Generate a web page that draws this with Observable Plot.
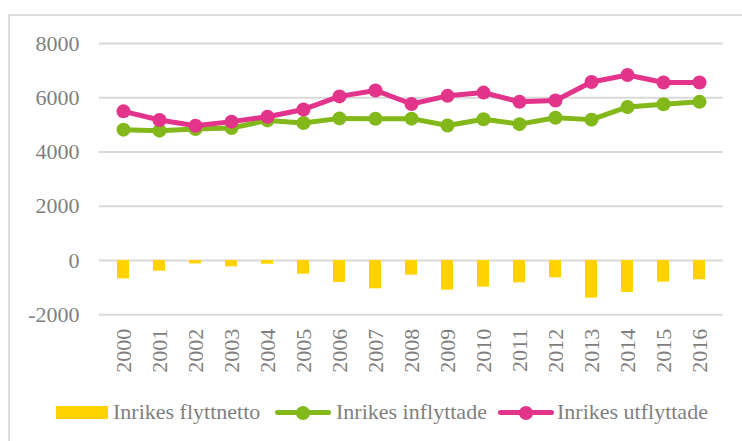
<!DOCTYPE html>
<html>
<head>
<meta charset="utf-8">
<script src="https://cdn.jsdelivr.net/npm/d3@7"></script>
<script src="https://cdn.jsdelivr.net/npm/@observablehq/plot@0.6"></script>
<style>
  html, body { margin: 0; padding: 0; background: #fff; }
  #wrap { position: relative; width: 742px; height: 441px; overflow: hidden; font-family: "Times New Roman", "Liberation Serif", Times, Tinos, "Noto Serif", "DejaVu Serif", Georgia, serif; color: #7f7f7f; }
  #frame { position: absolute; left: 8px; top: 14px; width: 800px; height: 500px; border-left: 2px solid #dcdcdc; border-top: 2px solid #dcdcdc; }
  #chart { position: absolute; left: 0; top: 0; }
  #chart svg, #chart svg text { font-family: "Times New Roman", "Liberation Serif", Times, Tinos, "Noto Serif", "DejaVu Serif", Georgia, serif !important; }
  .leg { position: absolute; font-size: 22px; line-height: 22px; white-space: nowrap; }
</style>
</head>
<body>
<div id="wrap">
  <div id="frame"></div>
  <div id="chart"></div>
  <div id="legend"></div>
</div>
<script>
const years = ["2000","2001","2002","2003","2004","2005","2006","2007","2008","2009","2010","2011","2012","2013","2014","2015","2016"];
const flyttnetto = [-675,-393,-123,-233,-135,-503,-810,-1043,-540,-1092,-981,-822,-638,-1386,-1178,-797,-711];
const inflyttade = [4825,4787,4847,4887,5165,5067,5240,5227,5230,4978,5209,5028,5262,5194,5662,5763,5849];
const utflyttade = [5500,5180,4970,5120,5300,5570,6050,6270,5770,6070,6190,5850,5900,6580,6840,6560,6560];
const yTicks = [-2000, 0, 2000, 4000, 6000, 8000];
const seriesNames = ["Inrikes flyttnetto", "Inrikes inflyttade", "Inrikes utflyttade"];
const colors = ["#FFD200", "#82B81A", "#E2348B"];

const netRows = years.map((y, i) => ({year: y, value: flyttnetto[i]}));
const inRows = years.map((y, i) => ({year: y, value: inflyttade[i]}));
const utRows = years.map((y, i) => ({year: y, value: utflyttade[i]}));

const plot = Plot.plot({
  width: 742,
  height: 395,
  marginTop: 43,
  marginBottom: 80.7,
  marginLeft: 99,
  marginRight: 19.3,
  style: {fontSize: "22px", color: "#7f7f7f", background: "transparent"},
  x: {domain: years, paddingInner: 0.68, paddingOuter: 0.34, label: null},
  y: {domain: [-2000, 8000], label: null},
  marks: [
    Plot.ruleY(yTicks, {stroke: "#d9d9d9", strokeWidth: 2}),
    Plot.barY(netRows, {x: "year", y: "value", fill: colors[0]}),
    Plot.line(inRows, {x: "year", y: "value", stroke: colors[1], strokeWidth: 5}),
    Plot.dot(inRows, {x: "year", y: "value", fill: colors[1], r: 7}),
    Plot.line(utRows, {x: "year", y: "value", stroke: colors[2], strokeWidth: 5}),
    Plot.dot(utRows, {x: "year", y: "value", fill: colors[2], r: 7}),
    Plot.axisY({ticks: yTicks, tickSize: 0, tickPadding: 20, tickFormat: d => String(d).replace("−","-"), fill: "#7f7f7f", fontSize: 22}),
    Plot.axisX({tickSize: 0, tickPadding: 14, tickRotate: -90, fill: "#7f7f7f", fontSize: 22})
  ]
});
document.getElementById("chart").appendChild(plot);

// Legend
const legend = document.getElementById("legend");
const legY = 412.5;
function addText(x, txt) {
  const d = document.createElement("div");
  d.className = "leg";
  d.style.left = x + "px";
  d.style.top = (legY - 12) + "px";
  d.textContent = txt;
  legend.appendChild(d);
}
const sw = document.createElement("div");
sw.style.cssText = `position:absolute;left:56px;top:406px;width:52px;height:13px;background:${colors[0]}`;
legend.appendChild(sw);
addText(113, seriesNames[0]);
function lineMarker(x0, color) {
  const ln = document.createElement("div");
  ln.style.cssText = `position:absolute;left:${x0}px;top:${legY - 2.5}px;width:56px;height:5px;border-radius:2.5px;background:${color}`;
  legend.appendChild(ln);
  const c = document.createElement("div");
  c.style.cssText = `position:absolute;left:${x0 + 28 - 7}px;top:${legY - 7}px;width:14px;height:14px;border-radius:7px;background:${color}`;
  legend.appendChild(c);
}
lineMarker(275, colors[1]);
addText(336, seriesNames[1]);
lineMarker(498, colors[2]);
addText(557, seriesNames[2]);
</script>
</body>
</html>
